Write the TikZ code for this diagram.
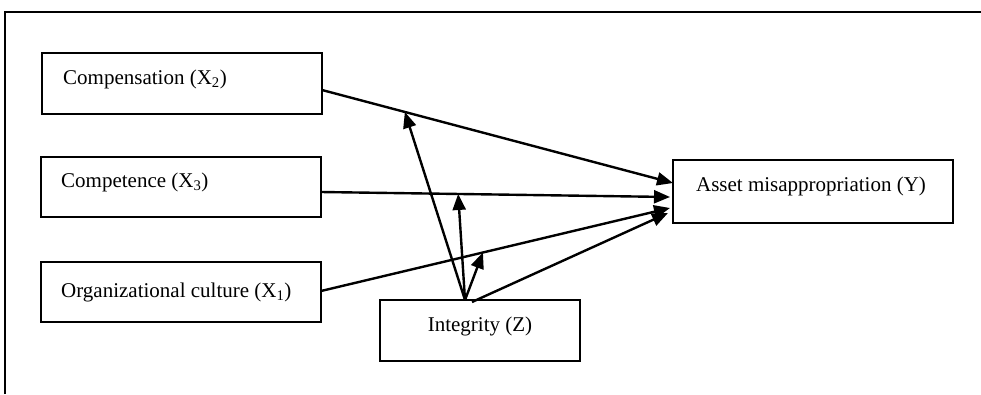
\documentclass[tikz,border=0pt]{standalone}
\usepackage{fontspec}
\setmainfont{Liberation Serif}
\usetikzlibrary{arrows.meta}
\begin{document}
\begin{tikzpicture}[x=1pt,y=-1pt,
  box/.style={draw, line width=2pt, rectangle, inner sep=0pt},
  lbl/.style={font=\fontsize{21}{25}\selectfont, inner sep=0pt},
  arr/.style={-{Triangle[length=16pt,width=13pt]}, line width=2.4pt}]
\useasboundingbox (0,0) rectangle (981,394);
\draw[line width=2pt] (5,394) -- (5,12) -- (981,12);
% boxes
\node[box, minimum width=280pt, minimum height=61pt] (comp) at (182,83.5) {};
\node[box, minimum width=280pt, minimum height=60pt] (compt) at (181,187) {};
\node[box, minimum width=280pt, minimum height=60pt] (org) at (181,292) {};
\node[box, minimum width=200pt, minimum height=61pt] (integ) at (480,330.5) {};
\node[box, minimum width=280pt, minimum height=63pt] (asset) at (813,191.5) {};
% labels
\node[lbl, anchor=base west] (tcomp) at (63,84) {Compensation (X\textsubscript{2})};
\node[lbl, anchor=base west] (tcompt) at (61,187) {Competence (X\textsubscript{3})};
\node[lbl, anchor=base west] (torg) at (61,297) {Organizational culture (X\textsubscript{1})};
\node[lbl, anchor=base] (tinteg) at (480,331) {Integrity (Z)};
\node[lbl, anchor=base] (tasset) at (811,191) {Asset misappropriation (Y)};
% connector end points
\coordinate (s2) at (322,90);
\coordinate (e2) at (673,183);
\coordinate (s3) at (321,192);
\coordinate (e3) at (670,197);
\coordinate (s1) at (321,291);
\coordinate (e1) at (670,208);
\coordinate (zs) at (465,300);
\coordinate (zs2) at (472,302);
\coordinate (ez) at (668,213);
% main paths
\draw[arr] (s2) -- coordinate[pos=0.236] (m2) (e2);
\draw[arr] (s3) -- coordinate[pos=0.393] (m3) (e3);
\draw[arr] (s1) -- coordinate[pos=0.464] (m1) (e1);
\draw[arr] (zs2) -- (ez);
% moderating arrows
\draw[arr] (zs) -- (m2);
\draw[arr] (zs) -- (m3);
\draw[arr] (zs) -- (m1);
\end{tikzpicture}
\end{document}
